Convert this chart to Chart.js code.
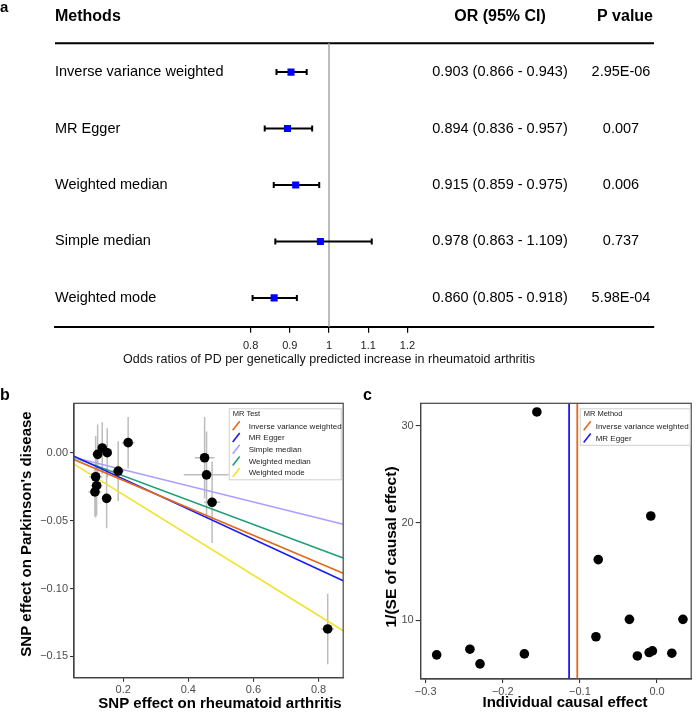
<!DOCTYPE html>
<html>
<head>
<meta charset="utf-8">
<script src="https://cdn.jsdelivr.net/npm/chart.js@4.4.0/dist/chart.umd.min.js"></script>
<style>
  body { margin: 0; background: #fff; }
  #wrap { position: relative; width: 696px; height: 714px; }
  canvas { position: absolute; }
</style>
</head>
<body>
<div id="wrap">
  <canvas id="forest" width="696" height="380" style="left:0;top:0"></canvas>
  <canvas id="scatter" width="348" height="334" style="left:0;top:380px"></canvas>
  <canvas id="funnel" width="348" height="334" style="left:348px;top:380px"></canvas>
</div>
<script>
const FONT = "'Liberation Sans', Arial, sans-serif";

// ---- panel a: forest plot ----
const methods = ["Inverse variance weighted", "MR Egger", "Weighted median", "Simple median", "Weighted mode"];
const orValues = [0.903, 0.894, 0.915, 0.978, 0.860];
const orLower = [0.866, 0.836, 0.859, 0.863, 0.805];
const orUpper = [0.943, 0.957, 0.975, 1.109, 0.918];
const pValues = ["2.95E-06", "0.007", "0.006", "0.737", "5.98E-04"];
const forestTicks = [0.8, 0.9, 1, 1.1, 1.2];
const forestTickLabels = ["0.8", "0.9", "1", "1.1", "1.2"];

// ---- panel b: scatter of SNP effects ----
const snpX = [0.2153, 0.1357, 0.1216, 0.151, 0.1847, 0.1155, 0.1185, 0.1133, 0.1492, 0.450, 0.456, 0.473, 0.828];
const snpY = [0.0074, 0.0035, -0.0012, 0.0, -0.0135, -0.0177, -0.0243, -0.0289, -0.0336, -0.0037, -0.0163, -0.0365, -0.1298];
const snpSeX = [0.02, 0.012, 0.015, 0.01, 0.018, 0.02, 0.018, 0.02, 0.015, 0.03, 0.07, 0.025, 0.02];
const snpSeY = [0.019, 0.019, 0.022, 0.018, 0.022, 0.03, 0.022, 0.018, 0.022, 0.03, 0.032, 0.03, 0.026];
const mrTestNames = ["Inverse variance weighted", "MR Egger", "Simple median", "Weighted median", "Weighted mode"];
const mrTestColors = ["#E2691A", "#1A1AF5", "#AC9DFF", "#1F9E78", "#F2E22A"];
const lineYStart = [-0.005, -0.0025, -0.0035, -0.0035, -0.0084];   // y at left edge of panel
const lineYEnd = [-0.0887, -0.0943, -0.0527, -0.0776, -0.1311];    // y at right edge of panel
const scatterXRange = [0.049, 0.8756];
const scatterYRange = [-0.1657, 0.0364];
const scatterXTicks = [0.2, 0.4, 0.6, 0.8];
const scatterXLabels = ["0.2", "0.4", "0.6", "0.8"];
const scatterYTicks = [0, -0.05, -0.1, -0.15];
const scatterYLabels = ["0.00", "\u22120.05", "\u22120.10", "\u22120.15"];

// ---- panel c: funnel plot ----
const causalEffect = [-0.2857, -0.2426, -0.2295, -0.172, -0.1558, -0.0792, -0.0762, -0.0358, -0.0255, -0.0102, -0.0081, -0.006, 0.0192, 0.0336];
const invSE = [6.45, 7.03, 5.52, 6.55, 31.41, 8.31, 16.24, 10.1, 6.34, 6.69, 20.72, 6.86, 6.62, 10.1];
const mrMethodNames = ["Inverse variance weighted", "MR Egger"];
const mrMethodColors = ["#E2691A", "#1A1AF5"];
const mrMethodEffects = [-0.1034, -0.114];
const funnelXRange = [-0.3064, 0.0443];
const funnelYRange = [3.97, 32.3];
const funnelXTicks = [-0.3, -0.2, -0.1, 0];
const funnelXLabels = ["\u22120.3", "\u22120.2", "\u22120.1", "0.0"];
const funnelYTicks = [10, 20, 30];
const funnelYLabels = ["10", "20", "30"];

function fixedTicks(values) {
  return function (scale) { scale.ticks = values.map(v => ({ value: v })); };
}

function text(ctx, str, x, y, size, align, bold, color) {
  ctx.save();
  ctx.font = (bold ? "bold " : "") + size + "px " + FONT;
  ctx.textAlign = align;
  ctx.textBaseline = "middle";
  ctx.fillStyle = color || "#000";
  ctx.fillText(str, x, y);
  ctx.restore();
}

function vText(ctx, str, x, y, size) {
  ctx.save();
  ctx.translate(x, y);
  ctx.rotate(-Math.PI / 2);
  text(ctx, str, 0, 0, size, "center", true);
  ctx.restore();
}

// legend box drawn inside the top-right corner of a panel
function drawLegend(ctx, area, title, names, colors, box) {
  ctx.save();
  const left = area.right - box.rightGap - box.width;
  const top = area.top + box.topGap;
  ctx.fillStyle = "#fff";
  ctx.fillRect(left, top, box.width, box.height);
  ctx.strokeStyle = "#cfcfcf";
  ctx.lineWidth = 1;
  ctx.strokeRect(left + 0.5, top + 0.5, box.width, box.height);
  text(ctx, title, left + 4, top + 5.5, 7.5, "left", false, "#222");
  names.forEach((name, i) => {
    const y = top + 18 + i * box.step;
    ctx.strokeStyle = colors[i];
    ctx.lineWidth = 1.6;
    ctx.beginPath();
    ctx.moveTo(left + 4, y + 4);
    ctx.lineTo(left + 11, y - 5);
    ctx.stroke();
    text(ctx, name, left + box.textOffset, y, 8, "left", false, "#222");
  });
  ctx.restore();
}

const forestPlugin = {
  id: "forestExtras",
  beforeDatasetsDraw(chart) {
    const { ctx, chartArea: a, scales: { x, y } } = chart;
    ctx.save();
    // top rule
    ctx.strokeStyle = "#000";
    ctx.lineWidth = 2;
    ctx.beginPath();
    ctx.moveTo(a.left, a.top);
    ctx.lineTo(a.right, a.top);
    ctx.stroke();
    // reference line at OR = 1
    const x1 = x.getPixelForValue(1);
    ctx.strokeStyle = "#a6a6a6";
    ctx.lineWidth = 1.5;
    ctx.beginPath();
    ctx.moveTo(x1, a.top);
    ctx.lineTo(x1, a.bottom);
    ctx.stroke();
    // confidence intervals
    ctx.strokeStyle = "#000";
    ctx.lineWidth = 2;
    methods.forEach((m, i) => {
      const py = y.getPixelForValue(i + 1);
      const lo = x.getPixelForValue(orLower[i]);
      const hi = x.getPixelForValue(orUpper[i]);
      ctx.beginPath();
      ctx.moveTo(lo, py); ctx.lineTo(hi, py);
      ctx.moveTo(lo, py - 3); ctx.lineTo(lo, py + 3);
      ctx.moveTo(hi, py - 3); ctx.lineTo(hi, py + 3);
      ctx.stroke();
    });
    ctx.restore();
  },
  afterDraw(chart) {
    const { ctx, chartArea: a, scales: { x, y } } = chart;
    text(ctx, "a", 0, 8, 15, "left", true);
    text(ctx, "Methods", a.left, 17, 16, "left", true);
    text(ctx, "OR (95% CI)", 500, 17, 16, "center", true);
    text(ctx, "P value", 625, 17, 16, "center", true);
    methods.forEach((m, i) => {
      const py = y.getPixelForValue(i + 1);
      text(ctx, m, a.left, py, 14.5, "left");
      const ci = orValues[i].toFixed(3) + " (" + orLower[i].toFixed(3) + " - " + orUpper[i].toFixed(3) + ")";
      text(ctx, ci, 500, py, 14.5, "center");
      text(ctx, pValues[i], 621, py, 14.5, "center");
    });
    text(ctx, "Odds ratios of PD per genetically predicted increase in rheumatoid arthritis",
      x.getPixelForValue(1), 360, 12.5, "center", false, "#111");
  }
};

const scatterPlugin = {
  id: "scatterExtras",
  beforeDatasetsDraw(chart) {
    const { ctx, scales: { x, y } } = chart;
    ctx.save();
    ctx.strokeStyle = "#bdbdbd";
    ctx.lineWidth = 1.5;
    snpX.forEach((sx, i) => {
      const px = x.getPixelForValue(sx), py = y.getPixelForValue(snpY[i]);
      ctx.beginPath();
      ctx.moveTo(x.getPixelForValue(sx - snpSeX[i]), py);
      ctx.lineTo(x.getPixelForValue(sx + snpSeX[i]), py);
      ctx.moveTo(px, y.getPixelForValue(snpY[i] - snpSeY[i]));
      ctx.lineTo(px, y.getPixelForValue(snpY[i] + snpSeY[i]));
      ctx.stroke();
    });
    ctx.restore();
  },
  afterDraw(chart) {
    const { ctx, chartArea: a } = chart;
    ctx.save();
    ctx.strokeStyle = "#444";
    ctx.lineWidth = 1.2;
    ctx.strokeRect(a.left, a.top, a.right - a.left, a.bottom - a.top);
    ctx.restore();
    drawLegend(ctx, a, "MR Test", mrTestNames, mrTestColors,
      { width: 112, height: 71, rightGap: 2.5, topGap: 5, step: 11.7, textOffset: 20 });
    text(ctx, "b", 0, 16, 16, "left", true);
    vText(ctx, "SNP effect on Parkinson's disease", 27, 154, 15);
    text(ctx, "SNP effect on rheumatoid arthritis", 220, 324, 15, "center", true);
  }
};

const funnelPlugin = {
  id: "funnelExtras",
  afterDraw(chart) {
    const { ctx, chartArea: a } = chart;
    ctx.save();
    ctx.strokeStyle = "#444";
    ctx.lineWidth = 1.2;
    ctx.strokeRect(a.left, a.top, a.right - a.left, a.bottom - a.top);
    ctx.restore();
    drawLegend(ctx, a, "MR Method", mrMethodNames, mrMethodColors,
      { width: 110, height: 36.5, rightGap: 1.5, topGap: 5, step: 12.3, textOffset: 16 });
    text(ctx, "c", 15, 16, 16, "left", true);
    vText(ctx, "1/(SE of causal effect)", 44, 167, 15.5);
    text(ctx, "Individual causal effect", 217, 323, 15, "center", true);
  }
};

function ggAxis(range, ticks, labels, extra) {
  return Object.assign({
    type: "linear",
    min: range[0],
    max: range[1],
    afterBuildTicks: fixedTicks(ticks),
    grid: { drawOnChartArea: false, drawTicks: true, tickLength: 4, color: "#333", lineWidth: 1.1 },
    border: { color: "#444", width: 1.2 },
    ticks: {
      autoSkip: false, maxRotation: 0, padding: 2,
      font: { family: FONT, size: 11 }, color: "#4d4d4d",
      callback: (v, i) => labels[i]
    }
  }, extra);
}

const common = {
  responsive: false,
  animation: false,
  devicePixelRatio: 1,
  plugins: { legend: { display: false }, tooltip: { enabled: false } }
};

new Chart(document.getElementById("forest"), {
  type: "scatter",
  data: {
    datasets: [{
      data: orValues.map((v, i) => ({ x: v, y: i + 1 })),
      pointStyle: "rect",
      pointRadius: 5,
      backgroundColor: "#0000ff",
      borderWidth: 0
    }]
  },
  options: Object.assign({}, common, {
    layout: { padding: { left: 55, right: 42, top: 43.3, bottom: 0 } },
    scales: {
      x: {
        type: "linear", min: 0.301, max: 1.829,
        afterBuildTicks: fixedTicks(forestTicks),
        afterFit: s => { s.height = 53.3; },
        grid: { drawOnChartArea: false, drawTicks: true, tickLength: 6, color: "#000", lineWidth: 1.2 },
        border: { color: "#000", width: 2 },
        ticks: {
          autoSkip: false, maxRotation: 0, padding: 7,
          font: { family: FONT, size: 11 }, color: "#222",
          callback: (v, i) => forestTickLabels[i]
        }
      },
      y: { display: false, min: 0.49, max: 5.51, reverse: true }
    }
  }),
  plugins: [forestPlugin]
});

const scatterSets = mrTestNames.map((name, i) => ({
  label: name,
  data: [{ x: scatterXRange[0], y: lineYStart[i] }, { x: scatterXRange[1], y: lineYEnd[i] }],
  showLine: true,
  borderColor: mrTestColors[i],
  borderWidth: 1.6,
  pointRadius: 0,
  order: 1
}));
scatterSets.push({
  label: "SNPs",
  data: snpX.map((v, i) => ({ x: v, y: snpY[i] })),
  pointRadius: 4.8,
  backgroundColor: "#000",
  borderWidth: 0,
  order: 0
});

new Chart(document.getElementById("scatter"), {
  type: "scatter",
  data: { datasets: scatterSets },
  options: Object.assign({}, common, {
    layout: { padding: { left: 0, right: 4, top: 23.3, bottom: 0 } },
    scales: {
      x: ggAxis(scatterXRange, scatterXTicks, scatterXLabels, { afterFit: s => { s.height = 36.3; } }),
      y: ggAxis(scatterYRange, scatterYTicks, scatterYLabels, { afterFit: s => { s.width = 74; } })
    }
  }),
  plugins: [scatterPlugin]
});

const funnelSets = mrMethodNames.map((name, i) => ({
  label: name,
  data: [{ x: mrMethodEffects[i], y: funnelYRange[0] }, { x: mrMethodEffects[i], y: funnelYRange[1] }],
  showLine: true,
  borderColor: mrMethodColors[i],
  borderWidth: 1.8,
  pointRadius: 0,
  order: 1
}));
funnelSets.push({
  label: "SNPs",
  data: causalEffect.map((v, i) => ({ x: v, y: invSE[i] })),
  pointRadius: 4.8,
  backgroundColor: "#000",
  borderWidth: 0,
  order: 0
});

new Chart(document.getElementById("funnel"), {
  type: "scatter",
  data: { datasets: funnelSets },
  options: Object.assign({}, common, {
    layout: { padding: { left: 0, right: 1.3, top: 23.3, bottom: 0 } },
    scales: {
      x: ggAxis(funnelXRange, funnelXTicks, funnelXLabels, { afterFit: s => { s.height = 35; } }),
      y: ggAxis(funnelYRange, funnelYTicks, funnelYLabels, {
        afterFit: s => { s.width = 72.7; },
        grid: { drawOnChartArea: false, drawTicks: true, tickLength: 5, color: "#333", lineWidth: 1.1 }
      })
    }
  }),
  plugins: [funnelPlugin]
});
</script>
</body>
</html>
